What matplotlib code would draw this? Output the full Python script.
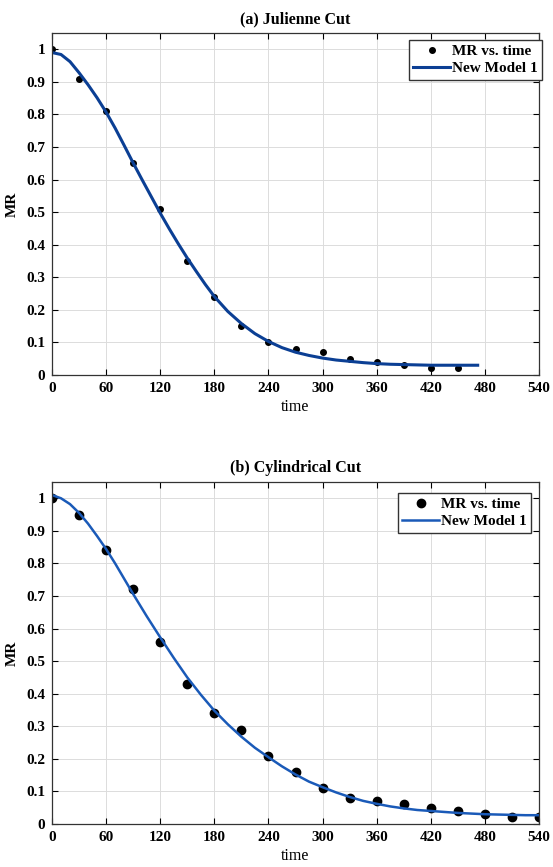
import numpy as np
import matplotlib
matplotlib.use("Agg")
import matplotlib.pyplot as plt

plt.rcParams['font.family'] = ['Liberation Serif', 'DejaVu Serif']

# (a) Julienne cut - measured points
t_a = [0, 30, 60, 90, 120, 150, 180, 210, 240, 270, 300, 330, 360, 390, 420, 450]
mr_a = [1.0, 0.91, 0.81, 0.65, 0.51, 0.35, 0.24, 0.15, 0.10, 0.08, 0.07, 0.05, 0.04, 0.03, 0.02, 0.02]
# (a) model curve
tm_a = [0, 10, 20, 30, 40, 50, 60, 70, 80, 90, 100, 110, 120, 130, 140, 150, 160, 170, 180,
        195, 210, 225, 240, 255, 270, 285, 300, 315, 330, 345, 360, 375, 390, 405, 420,
        435, 450, 472]
fit_a = [0.99, 0.984, 0.962, 0.928, 0.891, 0.851, 0.807, 0.758, 0.705, 0.651, 0.599,
         0.548, 0.497, 0.449, 0.403, 0.359, 0.318, 0.278, 0.241, 0.195, 0.158, 0.127,
         0.103, 0.084, 0.070, 0.060, 0.052, 0.046, 0.042, 0.038, 0.035, 0.033, 0.032,
         0.031, 0.030, 0.030, 0.030, 0.030]

# (b) Cylindrical cut - measured points
t_b = [0, 30, 60, 90, 120, 150, 180, 210, 240, 270, 300, 330, 360, 390, 420, 450, 480, 510, 540]
mr_b = [1.0, 0.95, 0.84, 0.72, 0.56, 0.43, 0.34, 0.29, 0.21, 0.16, 0.11, 0.08, 0.07, 0.06,
        0.05, 0.04, 0.03, 0.02, 0.02]
# (b) model curve
tm_b = [0, 10, 20, 30, 40, 50, 60, 70, 80, 90, 105, 120, 135, 150, 165, 180, 195, 210, 225,
        240, 255, 270, 285, 300, 315, 330, 345, 360, 375, 390, 405, 420, 435, 450, 465,
        480, 495, 510, 525, 540]
fit_b = [1.01, 1.0, 0.982, 0.955, 0.922, 0.884, 0.844, 0.80, 0.753, 0.706, 0.638, 0.573,
         0.51, 0.45, 0.397, 0.348, 0.306, 0.268, 0.234, 0.205, 0.177, 0.152, 0.13, 0.113,
         0.097, 0.083, 0.071, 0.062, 0.054, 0.048, 0.043, 0.040, 0.037, 0.034, 0.032,
         0.030, 0.029, 0.028, 0.027, 0.027]

xticks = np.arange(0, 541, 60)
yticks = np.arange(0, 1.01, 0.1)

W, H = 553, 867


def style_axes(ax, title):
    ax.set_xlim(0, 540)
    ax.set_ylim(0, 1.05)
    ax.set_xticks(xticks)
    ax.set_yticks(yticks)
    ax.set_yticklabels(['0'] + ['%.1f' % v for v in yticks[1:-1]] + ['1'])
    ax.tick_params(direction='in', top=True, right=True, labelsize=11, length=4,
                   width=0.8, pad=5)
    for lab in ax.get_xticklabels() + ax.get_yticklabels():
        lab.set_fontweight('bold')
    ax.grid(True, color='#dcdcdc', linewidth=0.7)
    ax.set_axisbelow(True)
    for s in ax.spines.values():
        s.set_linewidth(0.9)
        s.set_color('#333333')
    ax.set_title(title, fontsize=11.5, fontweight='bold', pad=7)
    ax.set_xlabel('time', fontsize=11.5, labelpad=3)
    ax.set_ylabel('MR', fontsize=11, fontweight='bold', labelpad=5)


def add_legend(ax, right_px, top_px):
    ax.legend(loc='upper right', bbox_to_anchor=(right_px / W, 1 - top_px / H),
              bbox_transform=ax.figure.transFigure, fancybox=False, framealpha=1,
              edgecolor='#333333', borderaxespad=0, handlelength=2.4,
              handletextpad=0.1, borderpad=0.3, labelspacing=0.2,
              prop={'weight': 'bold', 'size': 11})


fig = plt.figure(figsize=(W / 100, H / 100), dpi=100)

ax1 = fig.add_axes([52 / W, 1 - 375 / H, 487 / W, 342 / H])
ax1.plot(t_a, mr_a, 'o', color='black', markersize=4, label='MR vs. time')
ax1.plot(tm_a, fit_a, '-', color='#0b3f94', linewidth=2.2, label='New Model 1')
style_axes(ax1, '(a) Julienne Cut')
add_legend(ax1, 542, 40)

ax2 = fig.add_axes([52 / W, 1 - 824 / H, 487 / W, 342 / H])
ax2.plot(t_b, mr_b, 'o', color='black', markersize=6, label='MR vs. time')
ax2.plot(tm_b, fit_b, '-', color='#1a5ab8', linewidth=1.8, label='New Model 1')
style_axes(ax2, '(b) Cylindrical Cut')
add_legend(ax2, 531, 493)

fig.savefig('out.png', dpi=100)
